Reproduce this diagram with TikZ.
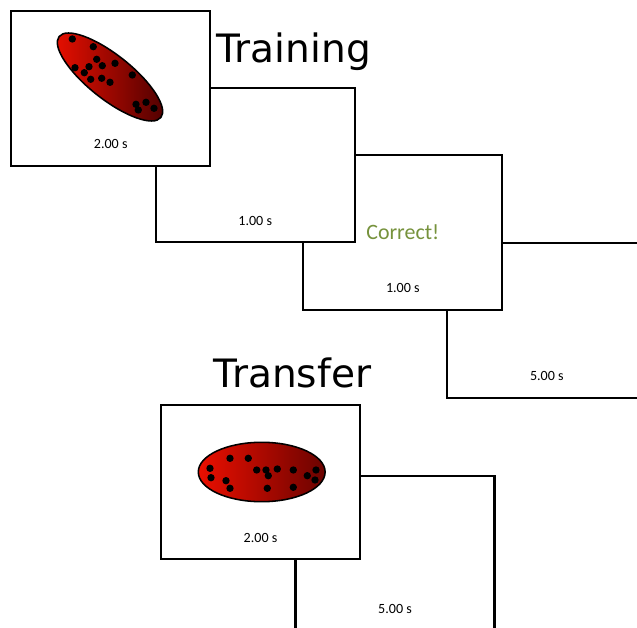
\documentclass[tikz,border=0pt]{standalone}
\usepackage{fontspec}
\setmainfont{Carlito}
\newfontfamily\headfont{DejaVu Sans}
\usetikzlibrary{shapes.geometric}

\definecolor{blobred}{RGB}{235,15,0}
\definecolor{blobdark}{RGB}{75,0,0}
\definecolor{okgreen}{RGB}{118,146,60}

\begin{document}
\begin{tikzpicture}[x=0.025cm,y=-0.025cm,
  screen/.style={draw,fill=white,line width=1.6pt,inner sep=0pt,
                 minimum width=4.975cm,minimum height=3.8625cm},
  dur/.style={font=\fontsize{10}{12}\selectfont},
  head/.style={font=\headfont\fontsize{27.8}{32}\selectfont,anchor=base},
  blob/.style={ellipse,draw,line width=1.1pt,inner sep=0pt,
               left color=blobred,right color=blobdark}]
  \useasboundingbox (0,0) rectangle (637,628);
  \clip (0,0) rectangle (637,628);

  % training trial, last screen first so earlier ones lie on top
  \node[screen] (tr4) at (546.8,320.5) {};
  \node[screen] (tr3) at (402.8,232.5) {};
  \node[screen] (tr2) at (255.2,165) {};
  \node[screen] (tr1) at (110.75,88.5) {};

  \node[dur] (tr1t) at ([yshift=0.56cm]tr1.south) {2.00 s};
  \node[dur] (tr2t) at ([yshift=0.56cm]tr2.south) {1.00 s};
  \node[dur] (tr3t) at ([yshift=0.56cm]tr3.south) {1.00 s};
  \node[dur] (tr4t) at ([yshift=0.56cm]tr4.south) {5.00 s};
  \node[font=\fontsize{15.6}{18}\selectfont,text=okgreen] (fb) at (tr3) {Correct!};

  \node[blob,rotate=-38.5,minimum width=3.25cm,minimum height=1.1cm] (trblob) at (110,77) {};
  \foreach \p in {(72.3,39),(93.3,46.7),(96.7,59.3),(102.3,65.7),(115,63.3),
                  (75,67.7),(89,66.7),(84.3,72.7),(90.7,79.3),(101.7,78.3),
                  (110,82.3),(132.3,75),(136,104.3),(146,102.3),(138.3,110),(154,108.3)}
    \fill \p circle (0.092cm);

  \node[head] (trhead) at (293.7,62.3) {Training};

  % transfer trial
  \node[screen] (tf2) at (395,553.2) {};
  \node[screen] (tf1) at (260.5,482) {};

  \node[dur] (tf1t) at ([yshift=0.56cm]tf1.south) {2.00 s};
  \node[dur] (tf2t) at ([yshift=0.56cm]tf2.south) {5.00 s};

  \node[blob,right color=blobdark!80!blobred,minimum width=3.17cm,minimum height=1.485cm] (tfblob) at (261.7,472) {};
  \foreach \p in {(230,458.3),(248.3,458.3),(210,468.3),(211,477.7),(226,480.7),
                  (230,488.3),(256.7,470),(266,470),(268.3,475.7),(277.3,469),
                  (267.3,488.3),(293.3,487.3),(293.3,470),(307.3,475.7),(315,480),(316,470)}
    \fill \p circle (0.092cm);

  \node[head] (tfhead) at (292.5,387.3) {Transfer};
\end{tikzpicture}
\end{document}
